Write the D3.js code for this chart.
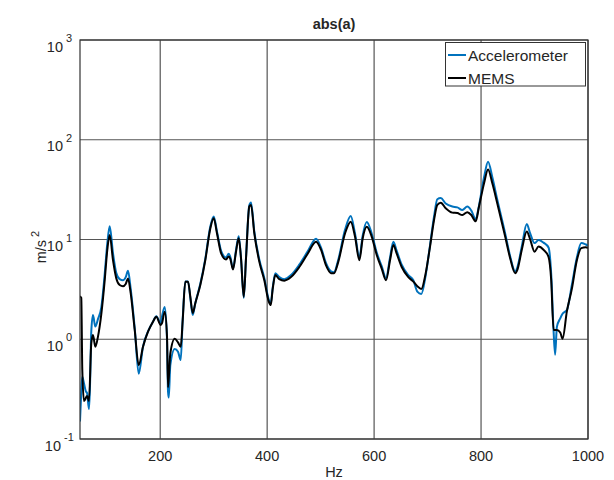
<!DOCTYPE html>
<html>
<head>
<meta charset="utf-8">
<script src="https://cdn.jsdelivr.net/npm/d3@7/dist/d3.min.js"></script>
<style>
body { margin: 0; background: #fff; }
text { font-family: "Liberation Sans", Arial, sans-serif; fill: #262626; }
</style>
</head>
<body>
<svg id="chart" width="614" height="480"></svg>
<script>
'use strict';
// [Hz, m/s^2]
var accData = [
  [50,0.15],[52.4,0.3],[54.3,0.42],[57.5,0.36],[61,0.3],[63.1,0.29],[66.8,0.2],[68.7,0.34],
  [71.1,1.2],[74.3,1.75],[78.6,1.34],[83.7,1.6],[89.9,2.1],[96.2,4.5],[101.1,9.2],[105.5,13.6],
  [111.7,7.3],[117.9,4.6],[124.2,4.0],[130.4,3.9],[135.5,4.2],[139.8,4.86],[144.8,3.2],[152.3,1.3],
  [159.8,0.45],[167.8,0.84],[177.2,1.2],[186.5,1.5],[192.7,1.7],[200.9,1.45],[203.4,1.7],[208.4,2.1],
  [212.7,1.0],[214.6,0.3],[216,0.26],[218.9,0.55],[227.1,0.8],[233.3,0.75],[238.3,0.62],[242.1,1.6],
  [246.9,3.8],[252,3.8],[256.3,2.6],[260.8,1.75],[265.6,2.3],[275,3.6],[284.3,6.4],[293.7,13.5],
  [300,17],[306.2,12],[314.2,7.6],[323.1,6.6],[328.1,7.2],[331.1,6.7],[336.1,5.1],[341.7,7.8],
  [346.8,10.8],[351.1,6.5],[356.2,2.6],[360.5,6.7],[366.6,22],[369.8,23.5],[376,12],[385.3,6.3],
  [394.7,4.1],[402.9,2.5],[406.7,2.3],[410.4,3.3],[415.3,4.6],[422.7,4.2],[432.1,4.0],[444.6,4.4],
  [460.1,5.6],[475.8,7.6],[491.4,10.2],[500.7,8.3],[510.1,5.8],[519.4,4.8],[525,4.7],[533.1,6.3],
  [545.6,12.5],[556.3,17.2],[564.3,11.5],[572.4,6.6],[578.7,11],[586.2,15],[595.5,11.5],[604.9,7.4],
  [614.2,5.4],[622.3,4.1],[629.8,6.6],[636,9.5],[642.3,7.7],[651.6,5.6],[664,4.4],[673.4,3.9],
  [680.8,3.0],[688.3,2.85],[696.5,4.4],[704.6,8.8],[712.1,17],[718.2,25.3],[724.6,26],[733.9,23],
  [746.3,21.4],[755.6,21],[765,19.8],[774.3,21.4],[781.8,19.5],[790,16],[796.2,22],[805.6,42],
  [813.1,60.3],[821.1,42],[830.4,25],[845.1,11.5],[854.4,6.8],[863.8,4.8],[868.1,5.3],[876.2,8.5],
  [885.5,14.3],[891.9,11.5],[900,9.2],[907.5,9.9],[916.8,9.3],[926.2,8.3],[931.2,4.5],[935.6,1.22],
  [938.5,0.7],[941.8,1.33],[948.1,1.62],[952.4,1.8],[960.5,1.96],[969.8,3.5],[979.2,6.6],[987.4,9.2],
  [996,8.9],[1000,8.7]
];
var memsData = [
  [50,2.7],[52.4,2.6],[54.3,0.49],[57.5,0.24],[63.1,0.27],[66.8,0.24],[71.1,0.91],[74.3,1.1],
  [78.6,0.84],[83.7,1.07],[89.9,1.8],[96.2,3.9],[101.1,7.9],[105.5,11.1],[111.7,6.2],[117.9,4.07],
  [124.2,3.5],[130.4,3.4],[135.5,3.58],[139.8,4.07],[144.8,2.9],[152.3,1.24],[159.8,0.55],[167.8,0.84],
  [177.2,1.19],[186.5,1.5],[192.7,1.68],[200.9,1.39],[203.4,1.45],[208.4,1.89],[212.7,1.07],[214.6,0.33],
  [218.9,0.72],[227.1,1.01],[233.3,0.93],[238.3,0.84],[242.1,1.56],[246.9,3.78],[252,3.78],[256.3,2.67],
  [260.8,1.83],[265.6,2.3],[275,3.5],[284.3,6.2],[293.7,12.9],[300,16.3],[306.2,11.5],[314.2,7.2],
  [323.1,6.3],[328.1,6.75],[331.1,6.4],[336.1,5.0],[341.7,7.5],[346.8,10.3],[351.1,6.5],[356.2,2.67],
  [360.5,6.5],[366.6,21.4],[369.8,22.2],[376,11.5],[385.3,6.0],[394.7,3.9],[402.9,2.4],[406.7,2.2],
  [410.4,3.2],[415.3,4.4],[422.7,4.0],[432.1,3.87],[444.6,4.2],[460.1,5.3],[475.8,7.2],[491.4,9.5],
  [500.7,7.9],[510.1,5.5],[519.4,4.6],[525,4.6],[533.1,6.0],[545.6,11.5],[556.3,15.1],[564.3,10.7],
  [572.4,6.2],[578.7,10.3],[586.2,13.4],[595.5,10.7],[604.9,7.0],[614.2,5.1],[622.3,3.9],[629.8,6.2],
  [636,8.8],[642.3,7.2],[651.6,5.3],[664,4.2],[673.4,3.78],[680.8,3.4],[688.3,3.19],[696.5,4.6],
  [704.6,8.5],[712.1,15.7],[718.2,22.2],[724.6,23.4],[733.9,20.6],[746.3,18.6],[755.6,18.4],[765,17.6],
  [774.3,18.8],[781.8,17.6],[790,15.2],[796.2,21.4],[805.6,36.6],[813.1,50.3],[821.1,36.6],[830.4,23],
  [845.1,10.7],[854.4,6.5],[863.8,4.6],[868.1,5.0],[876.2,7.9],[885.5,12],[891.9,10],[900,7.55],
  [907.5,8.5],[916.8,7.9],[926.2,6.7],[931.2,3.9],[935.6,1.24],[941.8,1.24],[948.1,1.17],[952.4,1.01],
  [960.5,1.9],[969.8,3.2],[979.2,6.2],[987.4,8.2],[996,8.35],[1000,8.2]
];
var xTicks = [200, 400, 600, 800, 1000];
var yExps = [-1, 0, 1, 2, 3];
var seriesNames = ['Accelerometer', 'MEMS'];
var seriesColors = ['#0072bd', '#000000'];

var plotL = 80, plotR = 588, plotT = 40, plotB = 439;
var svg = d3.select('#chart');
var x = d3.scaleLinear().domain([50, 1000]).range([plotL, plotR]);
var y = d3.scaleLog().domain([0.1, 1000]).range([plotB, plotT]);

svg.append('rect').attr('x', plotL).attr('y', plotT)
    .attr('width', plotR - plotL).attr('height', plotB - plotT).attr('fill', '#fff');

// grid
svg.selectAll('.vgrid').data(xTicks).enter().append('line')
    .attr('x1', function(d){return x(d);}).attr('x2', function(d){return x(d);})
    .attr('y1', plotT).attr('y2', plotB)
    .attr('stroke', '#555').attr('stroke-width', 1.2);
svg.selectAll('.hgrid').data(yExps).enter().append('line')
    .attr('x1', plotL).attr('x2', plotR)
    .attr('y1', function(d){return y(Math.pow(10, d));}).attr('y2', function(d){return y(Math.pow(10, d));})
    .attr('stroke', '#555').attr('stroke-width', 1.2);

// lines
svg.append('clipPath').attr('id', 'clip').append('rect')
    .attr('x', plotL).attr('y', plotT).attr('width', plotR - plotL).attr('height', plotB - plotT);
var line = d3.line()
    .x(function(d){return x(d[0]);})
    .y(function(d){return y(d[1]);})
    .curve(d3.curveMonotoneX);
[accData, memsData].forEach(function(s, i){
    svg.append('path')
        .attr('d', line(s))
        .attr('clip-path', 'url(#clip)')
        .attr('fill', 'none')
        .attr('stroke', seriesColors[i])
        .attr('stroke-width', 2)
        .attr('stroke-linejoin', 'round');
});

// box
svg.append('rect').attr('x', plotL).attr('y', plotT)
    .attr('width', plotR - plotL).attr('height', plotB - plotT)
    .attr('fill', 'none').attr('stroke', '#333').attr('stroke-width', 1.2);

// x tick labels
svg.selectAll('.xl').data(xTicks).enter().append('text')
    .attr('x', function(d){return x(d);})
    .attr('y', 461)
    .attr('text-anchor', 'middle')
    .attr('font-size', '14.5px')
    .text(function(d){return d;});

// y tick labels 10^n
var yl = svg.selectAll('.yl').data(yExps).enter().append('g')
    .attr('transform', function(d){return 'translate(0,' + y(Math.pow(10, d)) + ')';});
yl.append('text')
    .attr('x', function(d){return d < 0 ? 61 : 63;})
    .attr('y', 11.5)
    .attr('text-anchor', 'end')
    .attr('font-size', '14.5px')
    .text('10');
yl.append('text')
    .attr('x', function(d){return d < 0 ? 64 : 66;})
    .attr('y', 2)
    .attr('font-size', '11px')
    .text(function(d){return d < 0 ? '-1' : d;});

// axis labels
svg.append('text').attr('x', (plotL + plotR) / 2).attr('y', 477)
    .attr('text-anchor', 'middle').attr('font-size', '14.5px').text('Hz');
var ylab = svg.append('text')
    .attr('transform', 'translate(46,247) rotate(-90)')
    .attr('text-anchor', 'middle')
    .attr('font-size', '14.5px');
ylab.append('tspan').text('m/s');
ylab.append('tspan').attr('dx', 3).attr('dy', -7).attr('font-size', '11px').text('2');

// title
svg.append('text').attr('x', (plotL + plotR) / 2).attr('y', 29)
    .attr('text-anchor', 'middle').attr('font-size', '14.5px')
    .attr('font-weight', 'bold').attr('fill', '#000').text('abs(a)');

// legend
var lg = svg.append('g');
lg.append('rect').attr('x', 445.5).attr('y', 42.5).attr('width', 140).attr('height', 43.5)
    .attr('fill', '#fff').attr('stroke', '#333').attr('stroke-width', 1);
seriesNames.forEach(function(n, i){
    var cy = 55 + i * 23;
    lg.append('line').attr('x1', 448).attr('x2', 466).attr('y1', cy).attr('y2', cy)
        .attr('stroke', seriesColors[i]).attr('stroke-width', 2);
    lg.append('text').attr('x', 468).attr('y', cy + 5.5)
        .attr('font-size', '15.5px').attr('fill', '#000').text(n);
});
</script>
</body>
</html>
